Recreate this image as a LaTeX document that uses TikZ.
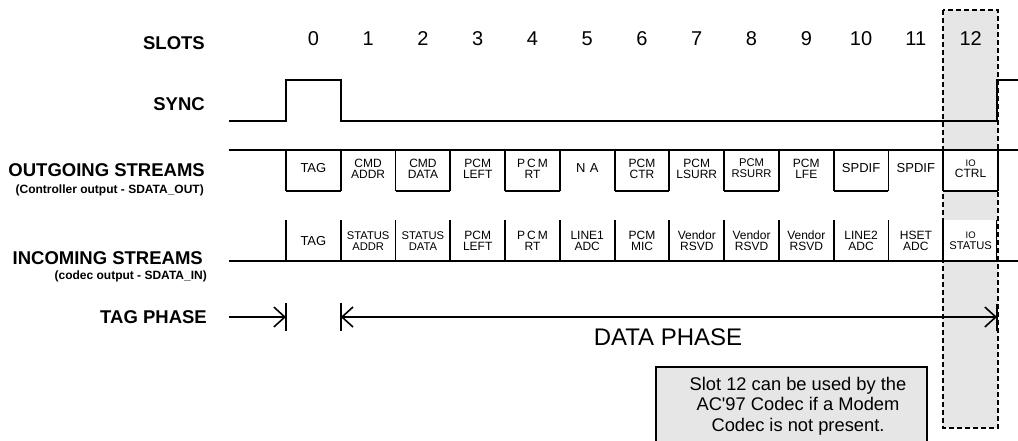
\documentclass[tikz,border=0pt]{standalone}
\usepackage{fontspec}
\setmainfont{Liberation Sans}
\usetikzlibrary{arrows.meta}

\definecolor{slotgray}{HTML}{E6E6E6}

\tikzset{
  rowlabel/.style={anchor=east, inner sep=0pt, font=\fontsize{18.5}{20}\selectfont\bfseries},
  sublabel/.style={anchor=east, inner sep=0pt, font=\fontsize{12}{13}\selectfont\bfseries},
  slotnum/.style={inner sep=0pt, font=\fontsize{20}{22}\selectfont},
  cellone/.style={inner sep=0pt, font=\fontsize{13}{12}\selectfont},
  celltwo/.style={inner sep=0pt, align=center, font=\fontsize{12}{11}\selectfont},
  cellsmall/.style={inner sep=0pt, align=center, font=\fontsize{11.2}{11}\selectfont},
  wire/.style={line width=1.8pt},
  phase/.style={line width=1.6pt},
  barb/.tip={Straight Barb[length=11pt,width=20pt]}
}

\begin{document}
\begin{tikzpicture}[x=1pt, y=-1pt]
  \useasboundingbox (0,0) rectangle (1018,440);

  % Slot 12 shading
  \fill[slotgray] (943,10) rectangle (998,428);
  \draw[line width=1.5pt, dash pattern=on 5pt off 3pt] (943,10) rectangle (998,428);
  \fill[white] (943,150) rectangle (997,191);
  \fill[white] (943,220) rectangle (996,261);

  % Row labels
  \node[rowlabel] (slots) at (205,43) {SLOTS};
  \node[rowlabel] (sync) at (205,104.5) {SYNC};
  \node[rowlabel] (out) at (205,170) {OUTGOING STREAMS};
  \node[sublabel] (outsub) at (204,190) {(Controller output - SDATA\_OUT)};
  \node[rowlabel] (in) at (203,258) {INCOMING STREAMS};
  \node[sublabel] (insub) at (207,276) {(codec output - SDATA\_IN)};
  \node[rowlabel] (tagphase) at (207,317) {TAG PHASE};

  % Slot numbers
  \foreach \k in {0,...,12}
    \node[slotnum] (n\k) at ({286+54.77*(\k+0.5)},39) {\k};

  % Sync pulse
  \draw[wire] (229,121) -- (286,121) -- (286,80) -- (340.8,80) -- (340.8,121)
    -- (997,121) -- (997,80) -- (1018,80);

  % Outgoing stream frame
  \draw[wire] (229,150) -- (1018,150);
  \foreach \k in {0,...,13}
    \draw[wire] ({286+54.77*\k},150) -- ({286+54.77*\k},191);
  \foreach \k in {0,2,...,12}
    \draw[wire] ({286+54.77*\k},191) -- ({286+54.77*(\k+1)},191);

  % Incoming stream frame
  \draw[wire] (229,261) -- (1018,261);
  \foreach \k in {0,...,12}
    \draw[wire] ({286+54.77*\k},220) -- ({286+54.77*\k},261);
  \draw[wire] (996.5,220) -- (996.5,261);

  % Outgoing cells
  \foreach \k/\s/\txt in {0/cellone/TAG, 1/celltwo/{CMD\\ADDR}, 2/celltwo/{CMD\\DATA},
      3/celltwo/{PCM\\LEFT}, 4/celltwo/{P\,C\,M\\RT}, 5/cellone/{N\,\,A},
      6/celltwo/{PCM\\CTR}, 7/celltwo/{PCM\\LSURR}, 8/cellsmall/{PCM\\RSURR},
      9/celltwo/{PCM\\LFE}, 10/cellone/SPDIF, 11/cellone/SPDIF,
      12/celltwo/{{\fontsize{9.5}{10}\selectfont IO}\\CTRL}}
    \node[\s] (o\k) at ({286+54.77*(\k+0.5)},168.5) {\txt};

  % Incoming cells
  \foreach \k/\s/\txt in {0/cellone/TAG, 1/cellsmall/{STATUS\\ADDR}, 2/cellsmall/{STATUS\\DATA},
      3/celltwo/{PCM\\LEFT}, 4/celltwo/{P\,C\,M\\RT}, 5/celltwo/{LINE1\\ADC},
      6/celltwo/{PCM\\MIC}, 7/celltwo/{Vendor\\RSVD}, 8/celltwo/{Vendor\\RSVD},
      9/celltwo/{Vendor\\RSVD}, 10/celltwo/{LINE2\\ADC}, 11/celltwo/{HSET\\ADC},
      12/cellsmall/{{\fontsize{9.5}{10}\selectfont IO}\\STATUS}}
    \node[\s] (i\k) at ({286+54.77*(\k+0.5)},241) {\txt};

  % Phase markers
  \coordinate (tagL) at (229,317);
  \coordinate (tagR) at (286,317);
  \coordinate (dataL) at (340.8,317);
  \coordinate (dataR) at (997,317);
  \draw[phase, -barb] (tagL) -- (tagR);
  \draw[phase, barb-barb] (dataL) -- (dataR);
  \draw[phase] ([yshift=-14pt]tagR) -- ([yshift=14pt]tagR);
  \draw[phase] ([yshift=-14pt]dataL) -- ([yshift=14pt]dataL);
  \draw[line width=2.5pt] ([yshift=-14pt]dataR) -- ([yshift=13pt]dataR);
  \node[inner sep=0pt, font=\fontsize{24}{26}\selectfont] (data) at (668,337.5) {DATA PHASE};

  % Note
  \draw[line width=1.5pt, fill=slotgray] (656,367) rectangle (927,446);
  \node[inner sep=0pt, align=center, font=\fontsize{18.3}{20.5}\selectfont] (note) at (798,406)
    {Slot 12 can be used by the\\AC\textquotesingle97 Codec if a Modem\\Codec is not present.};
\end{tikzpicture}
\end{document}
